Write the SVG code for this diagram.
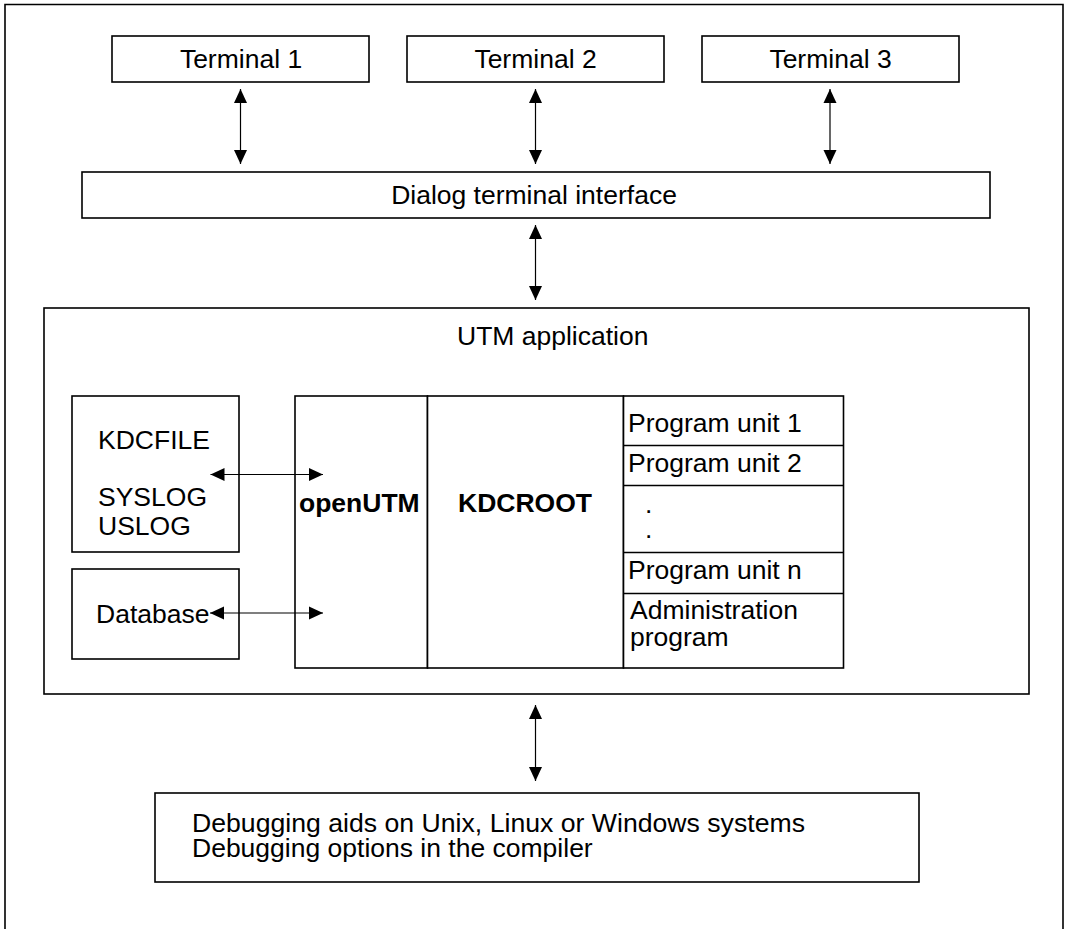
<svg xmlns="http://www.w3.org/2000/svg" width="1071" height="929" viewBox="0 0 1071 929">
<style>
  .box { fill: #fff; stroke: #000; stroke-width: 1.6; }
  .ln { fill: none; stroke: #000; stroke-width: 1.6; }
  .t { font-family: "Liberation Sans", Arial, Helvetica, sans-serif; font-size: 26.5px; fill: #000; }
  .b { font-weight: bold; }
  .m { text-anchor: middle; }
  .arr { fill: none; stroke: #000; stroke-width: 1.2; marker-start: url(#ah); marker-end: url(#ah); }
</style>
<defs>
  <marker id="ah" markerUnits="userSpaceOnUse" markerWidth="15" markerHeight="14" refX="14" refY="7" orient="auto-start-reverse">
    <path d="M0,0.5 L14,7 L0,13.5 Z" fill="#000"/>
  </marker>
</defs>
<rect width="1071" height="929" fill="#fff"/>
<g id="frame"><path class="ln" d="M5,929 V4.5 H1063 V929"/></g>

<g id="terminal1"><rect class="box" x="112" y="36" width="257" height="46"/><text class="t m" x="241" y="68">Terminal 1</text></g>
<g id="terminal2"><rect class="box" x="407" y="36" width="257" height="46"/><text class="t m" x="535.5" y="68">Terminal 2</text></g>
<g id="terminal3"><rect class="box" x="702" y="36" width="257" height="46"/><text class="t m" x="830.5" y="68">Terminal 3</text></g>

<g id="dialog"><rect class="box" x="82" y="172" width="908" height="46"/><text class="t m" x="534" y="204">Dialog terminal interface</text></g>

<g id="utm">
  <rect class="box" x="44" y="308" width="985" height="386"/>
  <text class="t" x="457" y="345">UTM application</text>
</g>

<g id="kdcfile"><rect class="box" x="72" y="396" width="167" height="156"/>
  <text class="t" x="98" y="449">KDCFILE</text>
  <text class="t" x="98" y="506">SYSLOG</text>
  <text class="t" x="98" y="535">USLOG</text>
</g>
<g id="database"><rect class="box" x="72" y="569" width="167" height="90"/>
  <text class="t" x="96" y="622.5">Database</text>
</g>

<g id="openutm"><rect class="box" x="295" y="396" width="132.5" height="272"/>
  <text class="t b" x="299" y="512">openUTM</text>
</g>
<g id="kdcroot"><rect class="box" x="427.5" y="396" width="196" height="272"/>
  <text class="t b m" x="525" y="512">KDCROOT</text>
</g>
<g id="programs">
  <rect class="box" x="623.5" y="396" width="220" height="272"/>
  <path class="ln" d="M623.5,445.5 H843.5 M623.5,485.5 H843.5 M623.5,552.5 H843.5 M623.5,593.5 H843.5"/>
  <text class="t" x="628" y="432">Program unit 1</text>
  <text class="t" x="628" y="472">Program unit 2</text>
  <text class="t" x="645" y="513">.</text>
  <text class="t" x="645" y="538">.</text>
  <text class="t" x="628" y="579">Program unit n</text>
  <text class="t" x="630" y="619">Administration</text>
  <text class="t" x="630" y="646">program</text>
</g>

<g id="debug"><rect class="box" x="155" y="793" width="764" height="89"/>
  <text class="t" x="192" y="832" textLength="613" lengthAdjust="spacingAndGlyphs">Debugging aids on Unix, Linux or Windows systems</text>
  <text class="t" x="192" y="857">Debugging options in the compiler</text>
</g>

<g id="connectors">
  <line class="arr" x1="240.5" y1="89" x2="240.5" y2="164"/>
  <line class="arr" x1="535.5" y1="89" x2="535.5" y2="164"/>
  <line class="arr" x1="830" y1="89" x2="830" y2="164"/>
  <line class="arr" x1="535.5" y1="225" x2="535.5" y2="300"/>
  <line class="arr" x1="210.5" y1="474.5" x2="323" y2="474.5"/>
  <line class="arr" x1="210" y1="613" x2="323" y2="613"/>
  <line class="arr" x1="535.5" y1="705" x2="535.5" y2="781"/>
</g>
</svg>
